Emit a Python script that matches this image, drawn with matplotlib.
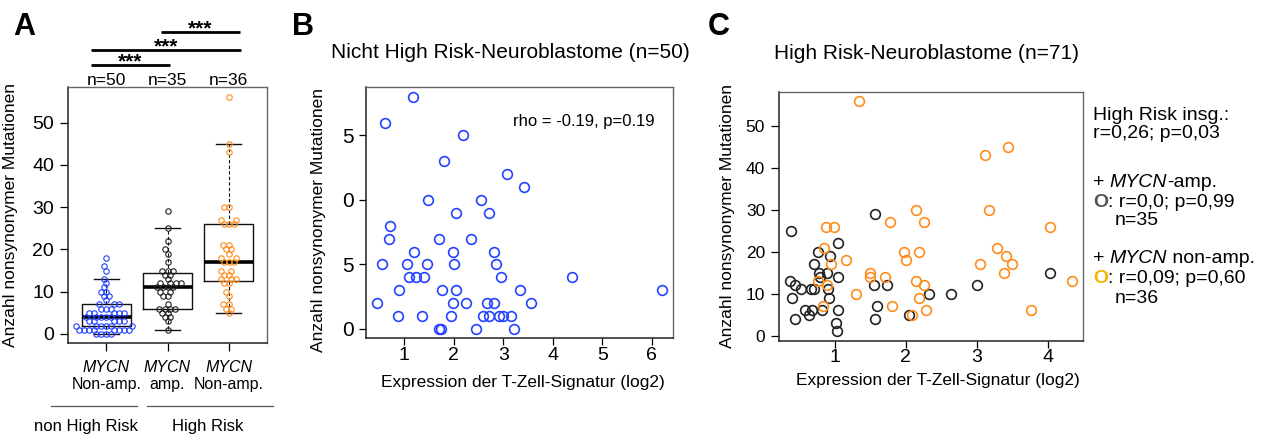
import numpy as np
import matplotlib
matplotlib.use("Agg")
import matplotlib.pyplot as plt
from matplotlib.lines import Line2D

plt.rcParams['font.family'] = ['Liberation Sans', 'DejaVu Sans']

# ---------------- data ----------------
# Panel B: non high risk (n=50)
nhr_expr = [1.18, 0.62, 2.19, 1.81, 3.07, 3.42, 1.48, 2.56, 2.04, 2.72,
            0.72, 0.70, 1.71, 2.35, 1.19, 1.99, 2.82, 0.56, 1.06, 1.46,
            2.00, 2.85, 1.09, 1.24, 1.40, 2.95, 4.40, 0.89, 1.77, 2.04,
            3.34, 6.20, 0.46, 1.98, 2.25, 2.68, 2.82, 3.57, 0.87, 1.36,
            1.95, 2.59, 2.72, 2.91, 2.99, 3.16, 1.71, 1.74, 2.46, 3.21]
nhr_mut = [18, 16, 15, 13, 12, 11, 10, 10, 9, 9,
           8, 7, 7, 7, 6, 6, 6, 5, 5, 5,
           5, 5, 4, 4, 4, 4, 4, 3, 3, 3,
           3, 3, 2, 2, 2, 2, 2, 2, 1, 1,
           1, 1, 1, 1, 1, 1, 0, 0, 0, 0]

# Panel C: high risk, MYCN amplified (n=35)
amp_expr = [0.38, 0.36, 0.44, 0.39, 0.44, 0.52, 0.66, 0.71, 0.57, 0.63,
            0.68, 0.71, 0.76, 0.77, 0.79, 0.81, 0.89, 0.90, 0.91, 0.93,
            1.04, 1.04, 1.04, 1.01, 1.03, 1.57, 1.55, 1.60, 1.56, 1.74,
            2.05, 2.33, 2.64, 3.00, 4.03]
amp_mut = [25, 13, 12, 9, 4, 11, 11, 11, 6, 5,
           6, 17, 20, 15, 14, 6, 15, 11, 9, 19,
           22, 14, 6, 3, 1, 29, 12, 7, 4, 12,
           5, 10, 10, 12, 15]

# Panel C: high risk, MYCN non-amplified (n=36)
nonamp_expr = [1.34, 0.87, 0.98, 0.84, 0.94, 1.16, 0.76, 0.89, 0.83, 1.29,
               1.49, 1.50, 1.70, 1.78, 1.80, 1.97, 2.00, 2.14, 2.18, 2.15,
               2.26, 2.26, 2.18, 2.09, 2.29, 3.12, 3.18, 3.44, 3.28, 3.42,
               3.50, 3.39, 3.04, 3.76, 4.04, 4.35]
nonamp_mut = [56, 26, 26, 21, 17, 18, 13, 12, 7, 10,
              15, 14, 14, 27, 7, 20, 18, 30, 20, 13,
              27, 12, 9, 5, 6, 43, 30, 45, 21, 19,
              17, 15, 17, 6, 26, 13]

group_n = ["n=50", "n=35", "n=36"]
group_top = ["MYCN", "MYCN", "MYCN"]
group_bottom = ["Non-amp.", "amp.", "Non-amp."]
risk_labels = ["non High Risk", "High Risk"]
sig_labels = ["***", "***", "***"]

BLUE = '#2342ff'
ORANGE = '#ff8c1a'
BLACK = '#222222'

W, H = 1261, 434
fig = plt.figure(figsize=(W / 100, H / 100), dpi=100)


def fpos(x, y):
    return x / W, 1 - y / H


def add_ax(l, t, r, b):
    return fig.add_axes([l / W, 1 - b / H, (r - l) / W, (b - t) / H])


def style_frame(ax):
    for s in ['top', 'right']:
        ax.spines[s].set_color('#666666')
        ax.spines[s].set_linewidth(1.0)
    for s in ['left', 'bottom']:
        ax.spines[s].set_color('#222222')
        ax.spines[s].set_linewidth(1.1)


# ---------------- Panel A ----------------
axA = add_ax(68, 87, 267, 343)
axA.set_xlim(0.37, 3.63)
axA.set_ylim(-2.13, 58.43)
style_frame(axA)
groups = [nhr_mut, amp_mut, nonamp_mut]
gcolors = [BLUE, BLACK, ORANGE]


def tukey_stats(vals, label):
    v = np.sort(np.asarray(vals, float))
    n = len(v)
    med = np.median(v)
    half = (n + 1) // 2
    lo_half = v[:half] if n % 2 else v[:n // 2]
    hi_half = v[n - half:] if n % 2 else v[n // 2:]
    q1 = np.median(lo_half)
    q3 = np.median(hi_half)
    iqr = q3 - q1
    whislo = v[v >= q1 - 1.5 * iqr].min()
    whishi = v[v <= q3 + 1.5 * iqr].max()
    return dict(med=med, q1=q1, q3=q3, whislo=whislo, whishi=whishi,
                fliers=[], label=label)


stats = [tukey_stats(g, str(i)) for i, g in enumerate(groups)]
axA.bxp(stats, positions=[1, 2, 3], widths=0.8, showfliers=False,
        boxprops=dict(color='#111111', linewidth=1.0),
        medianprops=dict(color='black', linewidth=2.6),
        whiskerprops=dict(color='#111111', linewidth=0.8, linestyle=(0, (3, 2))),
        capprops=dict(color='#111111', linewidth=1.0),
        capwidths=0.4, zorder=2)


def swarm_offsets(ax, vals, d_px):
    # place points in pixel space, ascending order, closest to centre
    to_px = ax.transData
    ypx = np.array([to_px.transform((0, v))[1] for v in vals])
    xunit = to_px.transform((1, 0))[0] - to_px.transform((0, 0))[0]
    order = np.argsort(ypx, kind='stable')
    placed_x, placed_y = [], []
    offs = np.zeros(len(vals))
    for i in order:
        y = ypx[i]
        cands = [0.0]
        for px, py in zip(placed_x, placed_y):
            dy = abs(py - y)
            if dy < d_px:
                dx = np.sqrt(d_px ** 2 - dy ** 2)
                cands += [px + dx, px - dx]
        cands = sorted(cands, key=lambda c: (abs(c), c))
        for c in cands:
            ok = True
            for px, py in zip(placed_x, placed_y):
                if (px - c) ** 2 + (py - y) ** 2 < d_px ** 2 - 1e-6:
                    ok = False
                    break
            if ok:
                break
        placed_x.append(c)
        placed_y.append(y)
        offs[i] = c / xunit
    return offs


for i, (g, c) in enumerate(zip(groups, gcolors)):
    offs = swarm_offsets(axA, g, 5.0)
    axA.plot(i + 1 + offs, g, 'o', ms=3.9, mfc='none', mec=c, mew=0.8,
             zorder=3, clip_on=False)

axA.set_yticks([0, 10, 20, 30, 40, 50])
axA.set_xticks([1, 2, 3])
axA.set_xticklabels([])
axA.tick_params(axis='y', labelsize=14, length=6, width=0.9, pad=4)
axA.tick_params(axis='x', length=6, width=0.9)
axA.set_ylabel("Anzahl nonsynonymer Mutationen", fontsize=12.5)
axA.yaxis.set_label_coords(-0.25, 0.5)

xtr = axA.get_xaxis_transform()
for i in range(3):
    axA.text(i + 1, 1 + (87 - 85) / 256, group_n[i], transform=xtr,
             ha='center', va='baseline', fontsize=12.5)
    axA.text(i + 1, -(371.7 - 343) / 256, group_top[i], transform=xtr,
             ha='center', va='baseline', fontsize=11.5, style='italic')
    axA.text(i + 1, -(389.3 - 343) / 256, group_bottom[i], transform=xtr,
             ha='center', va='baseline', fontsize=11.5)

# significance bars
sig_y = [63.6, 67.2, 71.4]
sig_x = [(0.74, 2.04), (0.75, 3.2), (1.89, 3.19)]
for (x0, x1), y, lab in zip(sig_x, sig_y, sig_labels):
    axA.plot([x0, x1], [y, y], color='black', lw=2.0, clip_on=False,
             solid_capstyle='butt')
    axA.annotate(lab, xy=((x0 + x1) / 2, y), xytext=(0, -2.0),
                 textcoords='offset pixels', ha='center', va='baseline',
                 fontsize=15, fontweight='bold', annotation_clip=False)

# risk group bars
yline = -(405.7 - 343) / 256
risk_spans = [(0.09, 1.5), (1.66, 3.73)]
risk_centers = [0.66, 2.66]
for (x0, x1), xc, lab in zip(risk_spans, risk_centers, risk_labels):
    axA.add_line(Line2D([x0, x1], [yline, yline], transform=xtr,
                        color='#555555', lw=0.9, clip_on=False))
    axA.text(xc, -(431.5 - 343) / 256, lab, transform=xtr,
             ha='center', va='baseline', fontsize=12)

# ---------------- Panel B ----------------
axB = add_ax(366, 87, 673, 338)
axB.set_xlim(0.23, 6.43)
axB.set_ylim(-0.7, 18.76)
style_frame(axB)
axB.plot(nhr_expr, nhr_mut, 'o', ms=7.0, mfc='none', mec=BLUE, mew=1.2)
axB.set_xticks([1, 2, 3, 4, 5, 6])
axB.set_yticks([0, 5, 10, 15])
axB.set_yticklabels(['0', '5', '0', '5'])
axB.tick_params(axis='y', labelsize=15, length=5, width=0.9, pad=4)
axB.tick_params(axis='x', labelsize=14, length=5, width=0.9, pad=1.5)
axB.set_ylabel("Anzahl nonsynonymer Mutationen", fontsize=12.5)
axB.yaxis.set_label_coords(-40 / 307, 0.47)
axB.set_xlabel("Expression der T-Zell-Signatur (log2)", fontsize=12.5)
axB.xaxis.set_label_coords(0.51, -(386.7 - 338) / 251)
axB.xaxis.label.set_va('baseline')
axB.set_title("Nicht High Risk-Neuroblastome (n=50)", fontsize=15,
              x=(510 - 366) / 307, y=1 + (87 - 66.7) / 251, va='baseline')
fig.text(*fpos(513, 125.7), "rho = -0.19, p=0.19", fontsize=12, ha='left',
         va='baseline')

# ---------------- Panel C ----------------
axC = add_ax(779, 92, 1083, 341)
axC.set_xlim(0.21, 4.50)
axC.set_ylim(-1.3, 58.1)
style_frame(axC)
axC.plot(amp_expr, amp_mut, 'o', ms=7.0, mfc='none', mec=BLACK, mew=1.2)
axC.plot(nonamp_expr, nonamp_mut, 'o', ms=7.0, mfc='none', mec=ORANGE, mew=1.2)
axC.set_xticks([1, 2, 3, 4])
axC.set_yticks([0, 10, 20, 30, 40, 50])
axC.tick_params(axis='y', labelsize=12.5, length=6, width=0.9, pad=4)
axC.tick_params(axis='x', labelsize=14, length=5, width=0.9, pad=1)
axC.set_ylabel("Anzahl nonsynonymer Mutationen", fontsize=12.5)
axC.yaxis.set_label_coords(-44 / 304, 0.5)
axC.set_xlabel("Expression der T-Zell-Signatur (log2)", fontsize=12.5)
axC.xaxis.set_label_coords((938 - 779) / 304, -(385 - 341) / 249)
axC.xaxis.label.set_va('baseline')
axC.set_title("High Risk-Neuroblastome (n=71)", fontsize=15,
              x=(927 - 779) / 304, y=1 + (92 - 67.3) / 249, va='baseline')

# legend-like annotation for C
LFS = 14
fig.text(*fpos(1093, 120), "High Risk insg.:", fontsize=LFS, va='baseline')
fig.text(*fpos(1093, 138.3), "r=0,26; p=0,03", fontsize=LFS, va='baseline')


def chain_texts(x, y, parts):
    first = fig.text(*fpos(x, y), parts[0][0], fontsize=LFS, va='baseline',
                     **parts[0][1])
    last = first
    for txt, kw in parts[1:]:
        last = axC.annotate(txt, xy=(1, 0), xycoords=last, va='bottom',
                            ha='left', fontsize=LFS, annotation_clip=False, **kw)
    return first


chain_texts(1093, 186.7, [("+ ", {}), ("MYCN", {'style': 'italic'}), ("-amp.", {})])
chain_texts(1093, 206.7, [("O", {'color': '#555555', 'fontweight': 'bold'}),
                          (": r=0,0; p=0,99", {})])
fig.text(*fpos(1115, 225), "n=35", fontsize=LFS, va='baseline')
chain_texts(1093, 262.7, [("+ ", {}), ("MYCN", {'style': 'italic'}), (" non-amp.", {})])
chain_texts(1093, 282.7, [("O", {'color': '#f5b400', 'fontweight': 'bold'}),
                          (": r=0,09; p=0,60", {})])
fig.text(*fpos(1115, 303.3), "n=36", fontsize=LFS, va='baseline')

# panel letters
for lab, x in zip(["A", "B", "C"], [13, 292, 708]):
    fig.text(*fpos(x, 35), lab, fontsize=22, fontweight='bold', va='baseline')

fig.savefig("out.png", dpi=100)
